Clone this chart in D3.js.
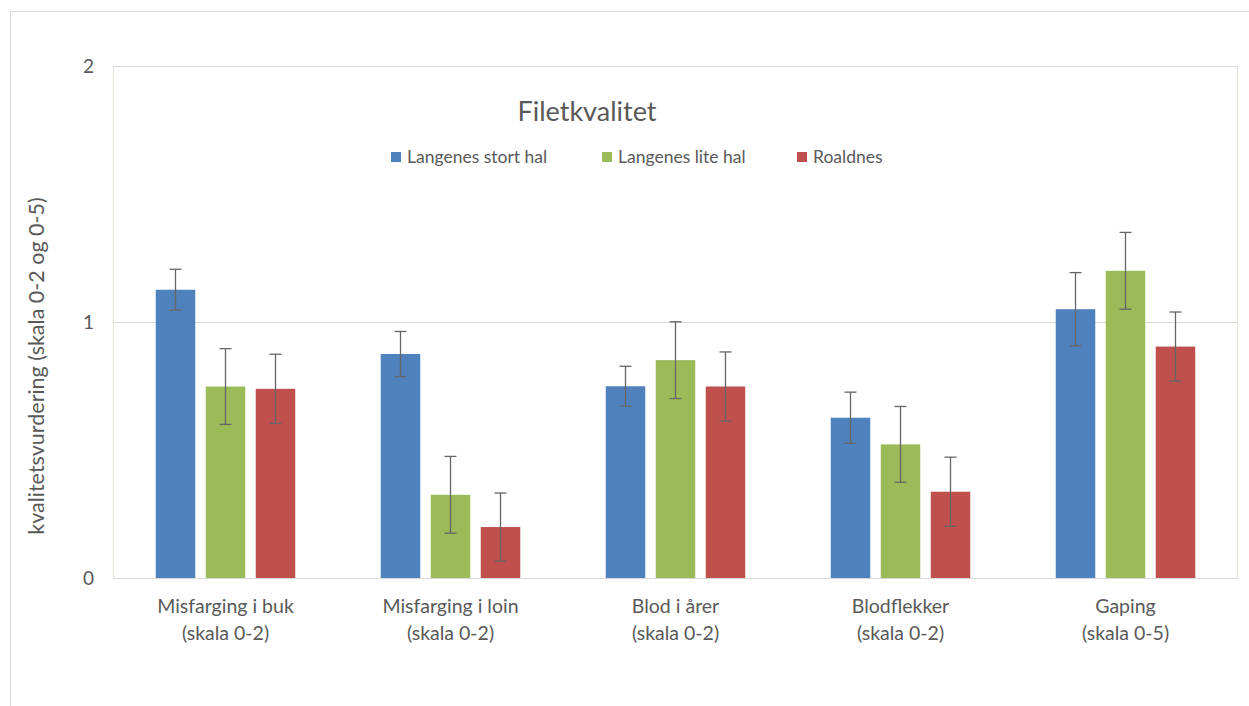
<!DOCTYPE html>
<html lang="no">
<head>
<meta charset="UTF-8">
<title>Filetkvalitet</title>
<script src="https://cdn.jsdelivr.net/npm/d3@7"></script>
<style>
    body { margin: 0; background: #fff; }
    text { font-family: Lato, "Noto Sans", sans-serif; fill: #595959; }
</style>
</head>
<body>
<div id="chart"></div>
<script>
    // data
    var categories = ["Misfarging i buk|(skala 0-2)", "Misfarging i loin|(skala 0-2)", "Blod i årer|(skala 0-2)", "Blodflekker|(skala 0-2)", "Gaping|(skala 0-5)"];
    var series = ["Langenes stort hal", "Langenes lite hal", "Roaldnes"];
    var colors = ["#4F81BD", "#9BBB59", "#C0504D"];
    var stortHal = [1.126, 0.875, 0.749, 0.626, 1.05];
    var liteHal = [0.748, 0.325, 0.851, 0.522, 1.20];
    var roaldnes = [0.739, 0.199, 0.748, 0.337, 0.904];
    var errStort = [0.08, 0.088, 0.078, 0.10, 0.143];
    var errLite = [0.148, 0.15, 0.15, 0.148, 0.15];
    var errRoald = [0.135, 0.133, 0.135, 0.135, 0.135];
    var yTicks = [0, 1, 2];

    var values = [stortHal, liteHal, roaldnes];
    var errors = [errStort, errLite, errRoald];

    var W = 1249, H = 706;
    var margin = {top: 66, left: 113, right: 11, bottom: 128};
    var width = W - margin.left - margin.right,
        height = H - margin.top - margin.bottom;

    var svg = d3.select("#chart").append("svg")
        .attr("width", W)
        .attr("height", H);

    // outer chart border
    svg.append("rect")
        .attr("x", 10.5).attr("y", 11.5)
        .attr("width", 1260).attr("height", 720)
        .attr("fill", "none")
        .attr("stroke", "#D9D9D9");

    var g = svg.append("g")
        .attr("transform", "translate(" + margin.left + "," + margin.top + ")");

    var x0 = d3.scaleBand()
        .domain(d3.range(categories.length))
        .range([0, width])
        .padding(0);

    var x1 = d3.scaleBand()
        .domain(d3.range(series.length))
        .range([0, 139.5])
        .paddingInner(0.21);

    var y = d3.scaleLinear()
        .domain([0, 2])
        .range([height, 0]);

    // plot area border
    g.append("rect")
        .attr("x", 0.5).attr("y", 0.5)
        .attr("width", width - 1).attr("height", height)
        .attr("fill", "none")
        .attr("stroke", "#E6E2D6");

    // gridlines
    g.selectAll(".grid")
        .data(yTicks)
        .enter().append("line")
        .attr("x1", 0).attr("x2", width)
        .attr("y1", function(d) { return Math.round(y(d)) + 0.5; })
        .attr("y2", function(d) { return Math.round(y(d)) + 0.5; })
        .attr("stroke", "#D9D9D9");

    // y tick labels
    g.selectAll(".ytick")
        .data(yTicks)
        .enter().append("text")
        .attr("x", -19)
        .attr("y", function(d) { return y(d); })
        .attr("dy", "0.35em")
        .attr("text-anchor", "end")
        .style("font-size", "19px")
        .text(function(d) { return d; });

    // bars
    series.forEach(function(s, si) {
        g.selectAll(".bar" + si)
            .data(values[si])
            .enter().append("rect")
            .attr("x", function(d, i) { return x0(i) + (x0.bandwidth() - 139.5) / 2 + x1(si); })
            .attr("y", function(d) { return y(d); })
            .attr("width", x1.bandwidth())
            .attr("height", function(d) { return height - y(d); })
            .attr("fill", colors[si]);
    });

    // error bars
    series.forEach(function(s, si) {
        var eg = g.selectAll(".err" + si)
            .data(values[si])
            .enter().append("g")
            .attr("transform", function(d, i) {
                var cx = x0(i) + (x0.bandwidth() - 139.5) / 2 + x1(si) + x1.bandwidth() / 2;
                return "translate(" + cx + ",0)";
            });
        eg.append("line")
            .attr("x1", 0).attr("x2", 0)
            .attr("y1", function(d, i) { return y(d + errors[si][i]); })
            .attr("y2", function(d, i) { return y(d - errors[si][i]); })
            .attr("stroke", "#666").attr("stroke-width", 1.3);
        [1, -1].forEach(function(sign) {
            eg.append("line")
                .attr("x1", -6).attr("x2", 6)
                .attr("y1", function(d, i) { return y(d + sign * errors[si][i]); })
                .attr("y2", function(d, i) { return y(d + sign * errors[si][i]); })
                .attr("stroke", "#666").attr("stroke-width", 1.3);
        });
    });

    // category labels
    categories.forEach(function(c, i) {
        var t = g.append("text")
            .attr("x", x0(i) + x0.bandwidth() / 2)
            .attr("y", height + 35)
            .attr("text-anchor", "middle")
            .style("font-size", "19.5px");
        c.split("|").forEach(function(line, li) {
            t.append("tspan")
                .attr("x", x0(i) + x0.bandwidth() / 2)
                .attr("dy", li === 0 ? 0 : 27)
                .text(line);
        });
    });

    // y axis title
    svg.append("text")
        .attr("transform", "translate(44,366) rotate(-90)")
        .attr("text-anchor", "middle")
        .style("font-size", "21.5px")
        .text("kvalitetsvurdering (skala 0-2 og 0-5)");

    // title
    svg.append("text")
        .attr("x", 587).attr("y", 121)
        .attr("text-anchor", "middle")
        .style("font-size", "27px")
        .text("Filetkvalitet");

    // legend
    var legendX = [391, 602, 797];
    var legend = svg.selectAll(".legend")
        .data(series)
        .enter().append("g")
        .attr("transform", function(d, i) { return "translate(" + legendX[i] + ",152)"; });
    legend.append("rect")
        .attr("width", 10).attr("height", 10)
        .attr("fill", function(d, i) { return colors[i]; });
    legend.append("text")
        .attr("x", 16).attr("y", 11)
        .style("font-size", "17.5px")
        .text(function(d) { return d; });
</script>
</body>
</html>
